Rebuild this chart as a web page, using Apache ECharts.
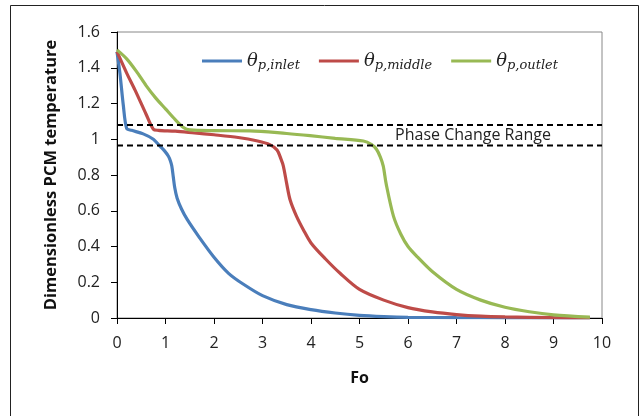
<!DOCTYPE html>
<html>
<head>
<meta charset="utf-8">
<script src="https://cdn.jsdelivr.net/npm/echarts@6/dist/echarts.min.js"></script>
<style>html,body{margin:0;padding:0;background:#fff}#c{width:641px;height:416px}</style>
</head>
<body>
<div id="c"></div>
<script>
var inletFo    = [0, 0.06, 0.13, 0.2, 0.3, 0.54, 0.75, 0.89, 0.98, 1.06, 1.1, 1.13, 1.16, 1.19, 1.24, 1.33, 1.45, 1.7, 2.0, 2.3, 2.6, 3.0, 3.5, 4.0, 4.5, 5.0, 5.5, 6.0, 7.0, 8.0, 9.0, 9.75];
var inletTheta = [1.49, 1.37, 1.19, 1.06, 1.05, 1.03, 1.0, 0.96, 0.935, 0.905, 0.88, 0.85, 0.79, 0.73, 0.67, 0.61, 0.55, 0.45, 0.34, 0.25, 0.19, 0.125, 0.075, 0.047, 0.028, 0.015, 0.008, 0.004, 0.002, 0.001, 0, 0];

var middleFo    = [0, 0.2, 0.37, 0.6, 0.75, 0.85, 1.2, 1.6, 2.0, 2.5, 2.9, 3.15, 3.3, 3.38, 3.43, 3.5, 3.57, 3.7, 3.85, 4.0, 4.3, 4.6, 5.0, 5.5, 6.0, 6.5, 7.0, 7.5, 8.0, 9.0, 9.75];
var middleTheta = [1.49, 1.37, 1.276, 1.14, 1.056, 1.05, 1.045, 1.035, 1.025, 1.01, 0.99, 0.97, 0.94, 0.89, 0.85, 0.75, 0.66, 0.57, 0.49, 0.42, 0.33, 0.25, 0.16, 0.1, 0.058, 0.034, 0.019, 0.01, 0.006, 0.002, 0];

var outletFo    = [0, 0.2, 0.4, 0.6, 0.8, 1.0, 1.2, 1.37, 1.5, 2.0, 2.74, 3.5, 3.98, 4.5, 5.08, 5.25, 5.35, 5.43, 5.49, 5.55, 5.7, 5.85, 6.0, 6.2, 6.5, 7.0, 7.5, 8.0, 8.5, 9.0, 9.75];
var outletTheta = [1.5, 1.45, 1.38, 1.3, 1.23, 1.17, 1.11, 1.066, 1.052, 1.048, 1.047, 1.032, 1.02, 1.005, 0.99, 0.97, 0.944, 0.9, 0.85, 0.75, 0.57, 0.47, 0.4, 0.34, 0.26, 0.16, 0.1, 0.06, 0.035, 0.018, 0.005];

var phaseUpper = 1.08;
var phaseLower = 0.965;
var foRange = [0, 10];
var phaseLabel = 'Phase Change Range';
var phaseLabelPos = [7.34, 1.022];

var seriesNames = ['inlet', 'middle', 'outlet'];
var seriesColors = ['#4A7EBB', '#BE4B48', '#98B954'];

function pairs(xs, ys){ return xs.map(function(x,i){ return [x, ys[i]]; }); }

var chart = echarts.init(document.getElementById('c'), null, {renderer:'canvas'});
var baseFont = '"Open Sans", sans-serif';

var curveData = [pairs(inletFo, inletTheta), pairs(middleFo, middleTheta), pairs(outletFo, outletTheta)];
var series = seriesNames.map(function(n, i){
  return {
    name: n, type: 'line', data: curveData[i], showSymbol: false, smooth: 0.3,
    lineStyle: {color: seriesColors[i], width: 3.2}, itemStyle: {color: seriesColors[i]},
    z: 3
  };
});
[phaseUpper, phaseLower].forEach(function(v, k){
  var s = {
    name: 'phase' + k, type: 'line', data: [[foRange[0], v], [foRange[1], v]], showSymbol: false,
    lineStyle: {color: '#000', width: 2, type: [6, 4]}, silent: true, z: 4
  };
  if (k === 0) {
    s.markPoint = {
      symbol: 'rect', symbolSize: 1, itemStyle: {color: 'rgba(0,0,0,0)'},
      data: [{coord: phaseLabelPos, value: phaseLabel}],
      label: {show: true, position: 'inside', formatter: phaseLabel, color: '#222', fontSize: 16, fontFamily: baseFont}
    };
  }
  series.push(s);
});

chart.setOption({
  animation: false,
  backgroundColor: '#fff',
  graphic: [{type: 'rect', shape: {x: 10.5, y: 5.5, width: 628, height: 430}, style: {fill: 'none', stroke: '#222', lineWidth: 1}, silent: true, z: -1}],
  grid: {left: 117, top: 32, right: 39, bottom: 98, show: true, borderColor: '#888', borderWidth: 1, backgroundColor: '#fff'},
  legend: {
    data: seriesNames, left: 197, top: 45, icon: 'rect', itemWidth: 40, itemHeight: 3, itemGap: 19,
    formatter: function(n){ return '{t|θ}{s|p,' + n + '}'; },
    textStyle: {
      rich: {
        t: {fontFamily: '"DejaVu Serif", serif', fontStyle: 'italic', fontSize: 18, color: '#222', lineHeight: 22},
        s: {fontFamily: '"DejaVu Serif", serif', fontStyle: 'italic', fontSize: 13, color: '#222', lineHeight: 22, verticalAlign: 'bottom', padding: [9, 0, 0, 0]}
      }
    }
  },
  xAxis: {
    type: 'value', min: 0, max: 10, interval: 1,
    name: 'Fo', nameLocation: 'middle', nameGap: 52,
    nameTextStyle: {fontWeight: 'bold', fontSize: 16, color: '#111', fontFamily: baseFont},
    axisLine: {lineStyle: {color: '#000', width: 1}},
    axisTick: {show: true, inside: false, length: 6, lineStyle: {color: '#000'}},
    axisLabel: {fontSize: 16, color: '#222', margin: 17, fontFamily: baseFont},
    splitLine: {show: false}
  },
  yAxis: {
    type: 'value', min: 0, max: 1.6, interval: 0.2,
    name: 'Dimensionless PCM temperature', nameLocation: 'middle', nameGap: 57,
    nameTextStyle: {fontWeight: 'bold', fontSize: 16.5, color: '#111', fontFamily: baseFont},
    axisLine: {show: true, lineStyle: {color: '#000', width: 1}},
    axisTick: {show: true, inside: false, length: 6, lineStyle: {color: '#000'}},
    axisLabel: {fontSize: 16, color: '#222', margin: 17, fontFamily: baseFont},
    splitLine: {show: false}
  },
  series: series
});
</script>
</body>
</html>
